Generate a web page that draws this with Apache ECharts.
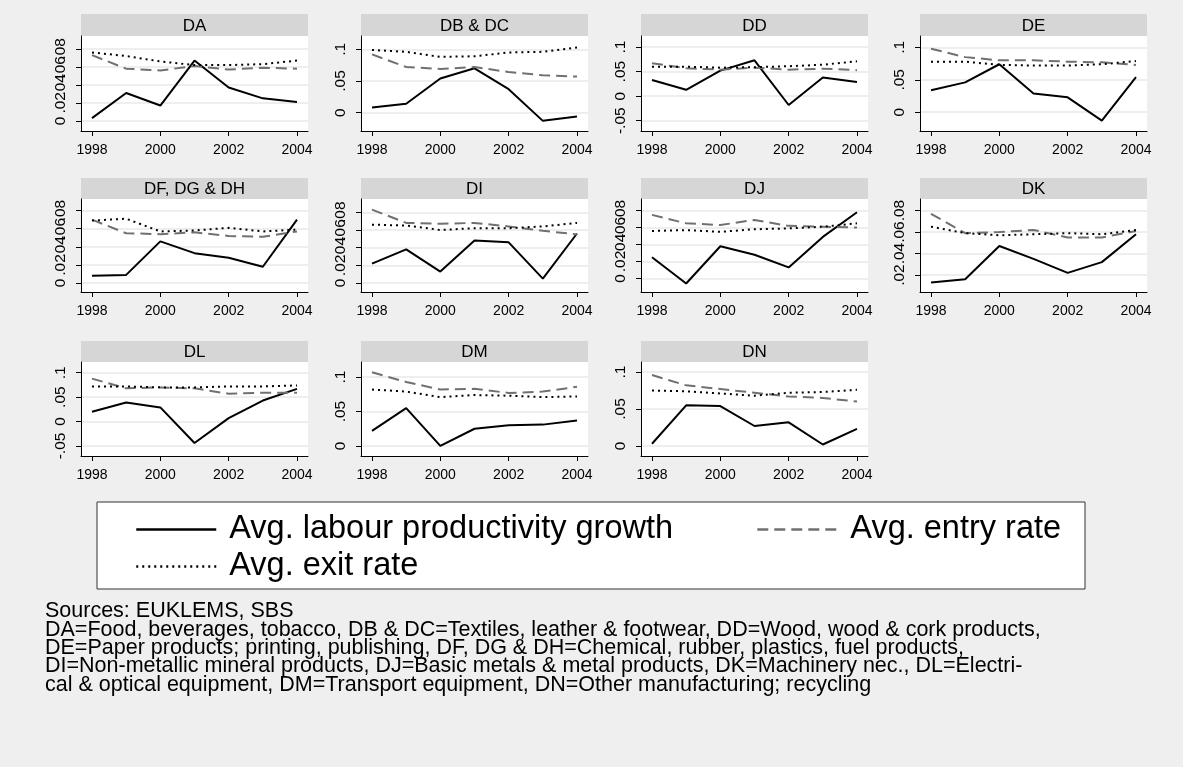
<!DOCTYPE html>
<html><head><meta charset="utf-8">
<script src="https://cdn.jsdelivr.net/npm/echarts@6/dist/echarts.min.js"></script>
<style>html,body{margin:0;padding:0;background:#efefef;}#c{width:1183px;height:767px;}</style>
</head><body><div id="c"></div>
<script>
const years = [1998, 1999, 2000, 2001, 2002, 2003, 2004];
const xTickYears = [1998, 2000, 2002, 2004];
const panelNames = ['DA', 'DB & DC', 'DD', 'DE', 'DF, DG & DH', 'DI', 'DJ', 'DK', 'DL', 'DM', 'DN'];
const seriesNames = ['Avg. labour productivity growth', 'Avg. entry rate', 'Avg. exit rate'];

const labourProductivity = [
  [0.003, 0.031, 0.017, 0.067, 0.037, 0.025, 0.021],
  [0.008, 0.014, 0.054, 0.070, 0.037, -0.013, -0.006],
  [0.033, 0.013, 0.052, 0.073, -0.018, 0.038, 0.029],
  [0.034, 0.046, 0.074, 0.029, 0.023, -0.013, 0.054],
  [0.008, 0.009, 0.046, 0.033, 0.028, 0.018, 0.070],
  [0.022, 0.038, 0.013, 0.048, 0.046, 0.005, 0.056],
  [0.025, -0.006, 0.038, 0.028, 0.013, 0.049, 0.078],
  [0.013, 0.016, 0.047, 0.035, 0.022, 0.032, 0.058],
  [0.020, 0.039, 0.029, -0.044, 0.007, 0.043, 0.067],
  [0.022, 0.055, 0.000, 0.025, 0.030, 0.031, 0.037],
  [0.003, 0.055, 0.054, 0.027, 0.032, 0.002, 0.023]
];
const entryRate = [
  [0.073, 0.058, 0.056, 0.061, 0.057, 0.059, 0.058],
  [0.092, 0.072, 0.069, 0.072, 0.064, 0.059, 0.057],
  [0.067, 0.057, 0.054, 0.058, 0.054, 0.056, 0.053],
  [0.098, 0.085, 0.080, 0.080, 0.078, 0.077, 0.073],
  [0.070, 0.055, 0.054, 0.056, 0.052, 0.051, 0.057],
  [0.083, 0.068, 0.067, 0.068, 0.064, 0.059, 0.055],
  [0.075, 0.065, 0.063, 0.069, 0.062, 0.061, 0.060],
  [0.077, 0.059, 0.060, 0.062, 0.055, 0.055, 0.061],
  [0.088, 0.068, 0.070, 0.068, 0.057, 0.059, 0.059],
  [0.107, 0.093, 0.082, 0.083, 0.077, 0.079, 0.086],
  [0.096, 0.082, 0.077, 0.072, 0.067, 0.065, 0.060]
];
const exitRate = [
  [0.076, 0.072, 0.066, 0.062, 0.062, 0.063, 0.067],
  [0.099, 0.096, 0.088, 0.089, 0.095, 0.096, 0.103],
  [0.060, 0.060, 0.058, 0.059, 0.061, 0.064, 0.071],
  [0.078, 0.078, 0.073, 0.072, 0.072, 0.074, 0.079],
  [0.069, 0.071, 0.057, 0.058, 0.061, 0.057, 0.059],
  [0.066, 0.065, 0.060, 0.062, 0.062, 0.064, 0.068],
  [0.056, 0.057, 0.055, 0.058, 0.059, 0.061, 0.065],
  [0.065, 0.059, 0.057, 0.058, 0.059, 0.058, 0.062],
  [0.072, 0.072, 0.070, 0.070, 0.072, 0.072, 0.074],
  [0.082, 0.079, 0.071, 0.074, 0.073, 0.071, 0.072],
  [0.075, 0.074, 0.071, 0.068, 0.072, 0.073, 0.076]
];

const yMin = [-0.0113, -0.029, -0.0709, -0.029, -0.0099, -0.0101, -0.016, 0.0042, -0.0706, -0.0146, -0.0136];
const yMax = [0.0943, 0.121, 0.1225, 0.1176, 0.0928, 0.095, 0.0937, 0.0908, 0.122, 0.122, 0.1136];
const yTicks = [
  [0, 0.02, 0.04, 0.06, 0.08], [0, 0.05, 0.1], [-0.05, 0, 0.05, 0.1], [0, 0.05, 0.1],
  [0, 0.02, 0.04, 0.06, 0.08], [0, 0.02, 0.04, 0.06, 0.08], [0, 0.02, 0.04, 0.06, 0.08], [0.02, 0.04, 0.06, 0.08],
  [-0.05, 0, 0.05, 0.1], [0, 0.05, 0.1], [0, 0.05, 0.1]
];
const yTickLabels = [
  ['0', '.02', '.04', '.06', '.08'], ['0', '.05', '.1'], ['-.05', '0', '.05', '.1'], ['0', '.05', '.1'],
  ['0', '.02', '.04', '.06', '.08'], ['0', '.02', '.04', '.06', '.08'], ['0', '.02', '.04', '.06', '.08'], ['.02', '.04', '.06', '.08'],
  ['-.05', '0', '.05', '.1'], ['0', '.05', '.1'], ['0', '.05', '.1']
];
const noteLines = [
  'Sources: EUKLEMS, SBS',
  'DA=Food, beverages, tobacco, DB & DC=Textiles, leather & footwear, DD=Wood, wood & cork products,',
  'DE=Paper products; printing, publishing, DF, DG & DH=Chemical, rubber, plastics, fuel products,',
  'DI=Non-metallic mineral products, DJ=Basic metals & metal products, DK=Machinery nec., DL=Electri-',
  'cal & optical equipment, DM=Transport equipment, DN=Other manufacturing; recycling'
];

const FONT = '"Liberation Sans", Arial, sans-serif';
const Y_FONT = 15.5;
const colLeft = [81, 361, 641, 920];
const panelW = 227;
const stripTop = [14, 178, 341];
const plotTop = [36, 199, 362];
const plotBottom = [131, 292, 456];

// approximate half-length of a rotated tick label, in px (Arial advance widths)
function halfLen(s) {
  let w = 0;
  for (const ch of s) w += ch === '.' ? 0.278 : ch === '-' ? 0.333 : 0.556;
  return w * Y_FONT / 2;
}

const grids = [], xAxes = [], yAxes = [], series = [], graphics = [];
panelNames.forEach((name, i) => {
  const r = Math.floor(i / 4), c = i % 4;
  const left = colLeft[c];
  const h = plotBottom[r] - plotTop[r];
  grids.push({
    left: left, top: plotTop[r], width: panelW, height: h,
    show: true, backgroundColor: '#ffffff', borderWidth: 0, outerBoundsMode: 'none'
  });
  xAxes.push({
    type: 'value', gridIndex: i, min: 1997.678, max: 2004.322,
    axisLine: { show: true, onZero: false, lineStyle: { color: '#000', width: 1 } },
    axisTick: { show: true, length: 5, customValues: xTickYears, lineStyle: { color: '#000' } },
    axisLabel: { customValues: xTickYears, fontSize: 14, color: '#000', fontFamily: FONT, margin: 12,
      showMinLabel: true, showMaxLabel: true, formatter: v => String(v) },
    splitLine: { show: false }
  });
  const labs = yTickLabels[i], tv = yTicks[i];
  const pxPerUnit = h / (yMax[i] - yMin[i]);
  // blank edge labels keep the outermost tick labels from being dropped by the min/max overlap check
  const labelValues = tv.slice();
  if ((tv[0] - yMin[i]) * pxPerUnit > halfLen(labs[0]) + 0.3) labelValues.unshift(yMin[i]);
  if ((yMax[i] - tv[tv.length - 1]) * pxPerUnit > halfLen(labs[labs.length - 1]) + 0.3) labelValues.push(yMax[i]);
  yAxes.push({
    type: 'value', gridIndex: i, min: yMin[i], max: yMax[i],
    axisLine: { show: true, onZero: false, lineStyle: { color: '#000', width: 1 } },
    axisTick: { show: true, length: 5, customValues: tv, lineStyle: { color: '#000' } },
    axisLabel: {
      customValues: labelValues, rotate: 90, fontSize: Y_FONT, color: '#000', fontFamily: FONT, margin: 12, hideOverlap: false,
      showMinLabel: true, showMaxLabel: true,
      formatter: v => { const k = tv.findIndex(t => Math.abs(t - v) < 1e-9); return k >= 0 ? labs[k] : '\u200b'; }
    },
    splitLine: { show: true, lineStyle: { color: '#e8e8e8', width: 1.5 } }
  });
  const mk = arr => years.map((y, k) => [y, arr[i][k]]);
  series.push({
    type: 'line', name: seriesNames[0], xAxisIndex: i, yAxisIndex: i, data: mk(labourProductivity),
    symbol: 'none', silent: true, animation: false, lineStyle: { color: '#000', width: 2, type: 'solid' }, itemStyle: { color: '#000' }
  });
  series.push({
    type: 'line', name: seriesNames[1], xAxisIndex: i, yAxisIndex: i, data: mk(entryRate),
    symbol: 'none', silent: true, animation: false, lineStyle: { color: '#707070', width: 2, type: [11, 6] }, itemStyle: { color: '#707070' }
  });
  series.push({
    type: 'line', name: seriesNames[2], xAxisIndex: i, yAxisIndex: i, data: mk(exitRate),
    symbol: 'none', silent: true, animation: false, lineStyle: { color: '#000', width: 2, type: [2, 4] }, itemStyle: { color: '#000' }
  });
  graphics.push({
    type: 'rect', shape: { x: left, y: stripTop[r], width: panelW, height: plotTop[r] - stripTop[r] },
    style: { fill: '#d6d6d6' }, silent: true
  });
  graphics.push({
    type: 'text', x: left + panelW / 2, y: (stripTop[r] + plotTop[r]) / 2 + 1,
    style: { text: name, fill: '#000', font: '17px ' + FONT, textAlign: 'center', textVerticalAlign: 'middle' }, silent: true
  });
});

graphics.push({
  type: 'rect', shape: { x: 97, y: 502, width: 988, height: 87 },
  style: { fill: '#ffffff', stroke: '#333', lineWidth: 1 }, silent: true, z: 0
});
graphics.push({
  type: 'text', x: 45, y: 602,
  style: { text: noteLines.join('\n'), fill: '#000', font: '21.5px ' + FONT, lineHeight: 18.4 }, silent: true
});

const legendText = { fontSize: 32.5, color: '#000', fontFamily: FONT, padding: [0, 0, 0, 8] };
const legendCommon = {
  orient: 'horizontal', itemWidth: 80, itemHeight: 20, padding: 0, textStyle: legendText, selectedMode: false, z: 5,
  itemStyle: { opacity: 0, borderWidth: 0 }, lineStyle: { width: 2.5 }
};
const option = {
  animation: false,
  backgroundColor: '#efefef',
  grid: grids, xAxis: xAxes, yAxis: yAxes, series: series,
  legend: [
    Object.assign({ data: seriesNames.slice(0, 2), left: 135, top: 513, itemGap: 83 }, legendCommon),
    Object.assign({ data: seriesNames.slice(2), left: 135, top: 550 }, legendCommon)
  ],
  graphic: { elements: graphics }
};
const chart = echarts.init(document.getElementById('c'), null, { renderer: 'canvas' });
chart.setOption(option);
</script></body></html>
